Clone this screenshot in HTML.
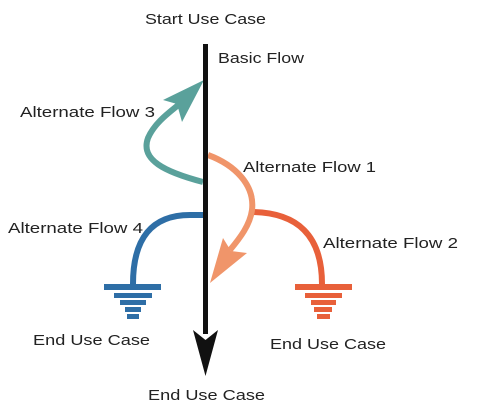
<!DOCTYPE html>
<html><head><style>html,body{margin:0;padding:0;background:#fff;}svg{display:block}</style></head>
<body>
<svg width="490" height="420" viewBox="0 0 490 420" xmlns="http://www.w3.org/2000/svg">
<g font-family="Liberation Sans, sans-serif" font-size="15" fill="#222">
<text x="145" y="24" textLength="121" lengthAdjust="spacingAndGlyphs">Start Use Case</text>
<text x="218" y="63" textLength="86" lengthAdjust="spacingAndGlyphs">Basic Flow</text>
<text x="20" y="117" textLength="135" lengthAdjust="spacingAndGlyphs">Alternate Flow 3</text>
<text x="243" y="172" textLength="133" lengthAdjust="spacingAndGlyphs">Alternate Flow 1</text>
<text x="8" y="233" textLength="135" lengthAdjust="spacingAndGlyphs">Alternate Flow 4</text>
<text x="323" y="248" textLength="135" lengthAdjust="spacingAndGlyphs">Alternate Flow 2</text>
<text x="33" y="345" textLength="117" lengthAdjust="spacingAndGlyphs">End Use Case</text>
<text x="270" y="349" textLength="116" lengthAdjust="spacingAndGlyphs">End Use Case</text>
<text x="148" y="400" textLength="117" lengthAdjust="spacingAndGlyphs">End Use Case</text>
</g>
<!-- blue -->
<path d="M203,215 L190,215 Q133,215 133,284" fill="none" stroke="#2e6ea6" stroke-width="6"/>
<g fill="#2e6ea6">
<rect x="104" y="284" width="57" height="6"/><rect x="114" y="293" width="38" height="5"/>
<rect x="120" y="300" width="26" height="5"/><rect x="125" y="307" width="16" height="5"/><rect x="127" y="314" width="12" height="5"/>
</g>
<!-- red -->
<path d="M250,212 Q322,212 322,284" fill="none" stroke="#e8603a" stroke-width="6"/>
<g fill="#e8603a">
<rect x="295" y="284" width="57" height="6"/><rect x="305" y="293" width="37" height="5"/>
<rect x="311" y="300" width="25" height="5"/><rect x="314" y="307" width="18" height="5"/><rect x="317" y="314" width="13" height="5"/>
</g>
<!-- teal -->
<path d="M203,182 C165,172 140,160 148,138 C155,122 170,112 182,102" fill="none" stroke="#5aa19b" stroke-width="6"/>
<polygon points="204,80 163,100 177,104 182,122" fill="#5aa19b"/>
<!-- salmon -->
<path d="M208,155 C235,165 255,185 252,210 C250,225 240,238 230,250" fill="none" stroke="#f0956a" stroke-width="6"/>
<polygon points="210,283 223,238 231,251 247,253" fill="#f0956a"/>
<!-- main -->
<rect x="203" y="44" width="5" height="290" fill="#111"/>
<polygon points="193,330 205.5,340 218,330 205.5,376" fill="#111"/>
</svg>
</body></html>
